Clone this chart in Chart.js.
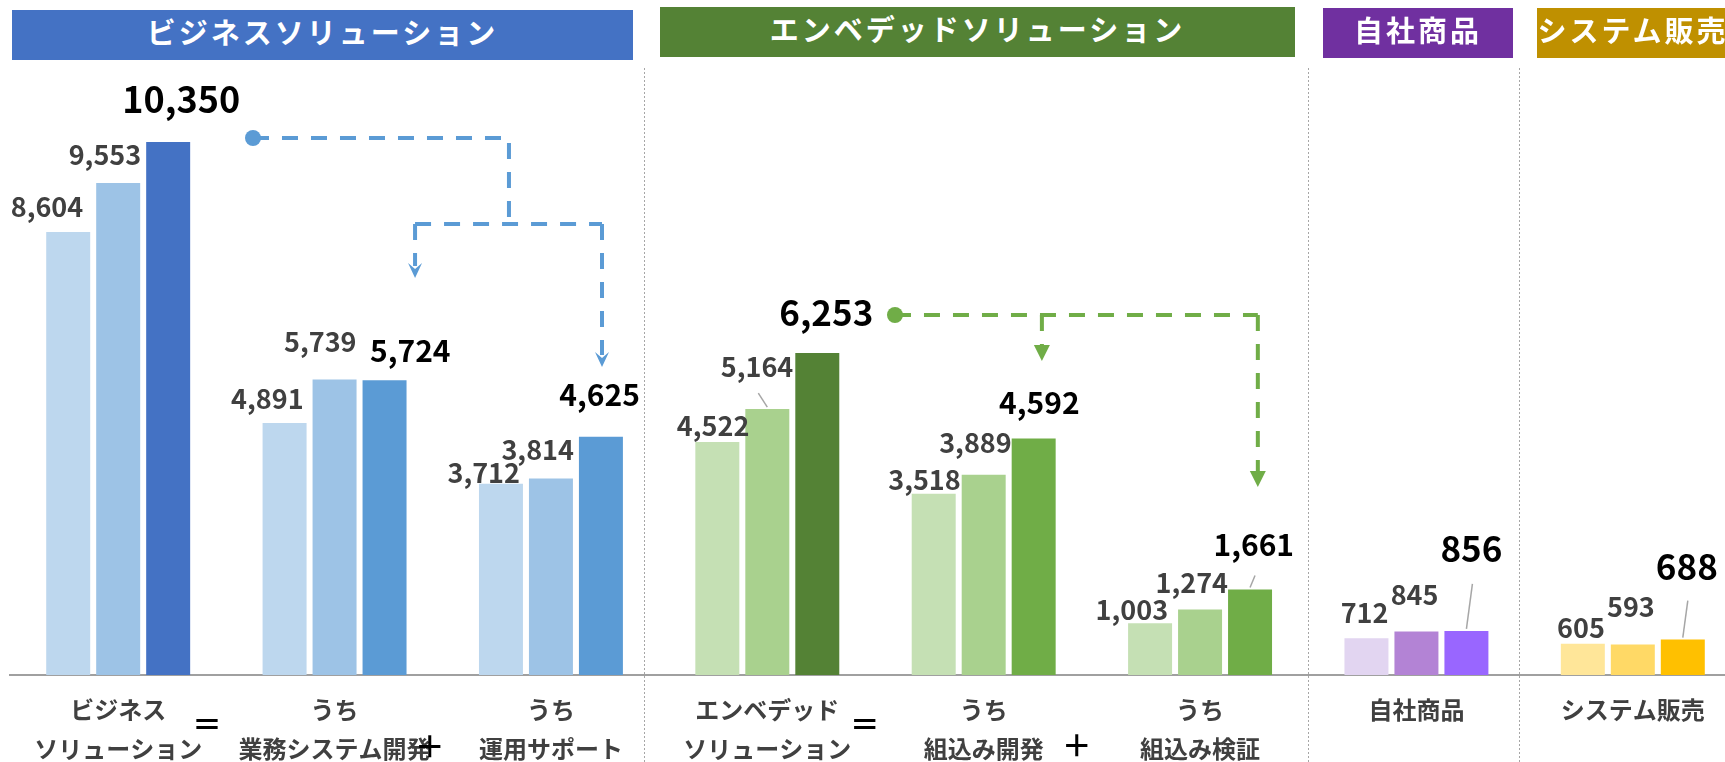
<!DOCTYPE html>
<html lang="ja">
<head>
<meta charset="utf-8">
<title>セグメント別売上高</title>
<script src="https://cdn.jsdelivr.net/npm/chart.js@4.4.1/dist/chart.umd.min.js"></script>
<style>
  html, body { margin: 0; padding: 0; background: #fff; overflow: hidden; }
  #wrap { position: relative; width: 1725px; height: 762px; overflow: hidden; }
  #chart { position: absolute; left: 0; top: 0; }
  .band {
    position: absolute; height: 50px; line-height: 50px; color: #fff;
    font: bold 29px 'Noto Sans CJK JP', sans-serif; letter-spacing: 3px;
    text-align: center; white-space: nowrap; overflow: hidden;
  }
</style>
</head>
<body>
<div id="wrap">
  <canvas id="chart" width="1760" height="762"></canvas>
  <div class="band" style="left:12px;top:10px;width:621px;background:#4472c4">ビジネスソリューション</div>
  <div class="band" style="left:660px;top:7px;width:635px;background:#548235">エンベデッドソリューション</div>
  <div class="band" style="left:1323px;top:8px;width:190px;background:#7030a0">自社商品</div>
  <div class="band" style="left:1537px;top:8px;width:192px;background:#bf9000">システム販売</div>
</div>
<script>
// 区分ごとの売上高（3期分）
const categories = [
  ['ビジネス', 'ソリューション'],
  ['うち', '業務システム開発'],
  ['うち', '運用サポート'],
  ['エンベデッド', 'ソリューション'],
  ['うち', '組込み開発'],
  ['うち', '組込み検証'],
  '自社商品',
  'システム販売'
];
const period1 = [8604, 4891, 3712, 4522, 3518, 1003, 712, 605];
const period2 = [9553, 5739, 3814, 5164, 3889, 1274, 845, 593];
const period3 = [10350, 5724, 4625, 6253, 4592, 1661, 856, 688];

const colors1 = ['#bdd7ee', '#bdd7ee', '#bdd7ee', '#c5e0b4', '#c5e0b4', '#c5e0b4', '#e2d5f1', '#ffe699'];
const colors2 = ['#9dc3e6', '#9dc3e6', '#9dc3e6', '#a9d18e', '#a9d18e', '#a9d18e', '#b383d5', '#ffd966'];
const colors3 = ['#4472c4', '#5b9bd5', '#5b9bd5', '#548235', '#70ad47', '#70ad47', '#9966ff', '#ffc000'];

const FONT = "'Noto Sans CJK JP', 'Noto Sans', sans-serif";

// ラベルの位置調整（棒の右上からのずれ: 右端, ベースライン）
const labelShift = [
  [[-7, -15], [-3, -14], [-3, -1], [10, -6], [5, -4], [-4, -3], [0, -15], [0, -6]],
  [[1, -18], [0, -27], [1, -19], [4, -32], [6, -22], [6, -16], [0, -26], [0, -27]],
  [[50, -29], [44, -18], [17, -31], [34, -27], [24, -25], [22, -33], [14, -69], [13, -60]]
];
// 最新期ラベルの文字サイズ
const totalLabelSize = [36, 30, 30, 35, 30, 30, 35, 35];
// 引き出し線（棒の上端中央から）
const leaders = [
  { ds: 1, i: 3, dx: -9, dy: -14 },
  { ds: 2, i: 5, dx: 5, dy: -12 },
  { ds: 2, i: 6, dx: 6, dy: -45 },
  { ds: 2, i: 7, dx: 5, dy: -37 }
];
// 内訳の矢印（x: 区分位置, y: 値）
const connectors = [
  {
    color: '#5b9bd5', head: 'line',
    dot: [0.623, 10427], corner: [1.806, 10427], split: 8757,
    branches: [[1.372, 7709], [2.236, 5981]]
  },
  {
    color: '#70ad47', head: 'triangle',
    dot: [3.590, 6990], corner: [5.267, 6990], split: 6990,
    branches: [[4.269, 6097], [5.267, 3650]]
  }
];
const signs = [
  { text: '＝', at: 0.41, dy: 49 },
  { text: '＋', at: 1.44, dy: 71 },
  { text: '＝', at: 3.45, dy: 49 },
  { text: '＋', at: 4.43, dy: 70 }
];
const dividers = [2.431, 5.499, 6.474];

const extras = {
  id: 'extras',
  afterDatasetsDraw(chart) {
    const { ctx, chartArea, scales: { x, y } } = chart;
    const step = x.getPixelForValue(1) - x.getPixelForValue(0);
    const px = v => x.getPixelForValue(0) + v * step;

    ctx.save();

    // 区切りの点線
    ctx.strokeStyle = '#a6a6a6';
    ctx.lineWidth = 1;
    ctx.setLineDash([2, 2]);
    dividers.forEach(d => {
      const xx = Math.round(px(d)) + 0.5;
      ctx.beginPath();
      ctx.moveTo(xx, chartArea.top + 11);
      ctx.lineTo(xx, chart.height);
      ctx.stroke();
    });
    ctx.setLineDash([]);

    // 数値ラベル
    ctx.textAlign = 'right';
    ctx.textBaseline = 'alphabetic';
    chart.data.datasets.forEach((ds, di) => {
      const meta = chart.getDatasetMeta(di);
      meta.data.forEach((bar, i) => {
        const [dx, dy] = labelShift[di][i];
        const right = bar.x + bar.width / 2;
        if (di === 2) {
          ctx.fillStyle = '#000';
          ctx.font = `bold ${totalLabelSize[i]}px ${FONT}`;
        } else {
          ctx.fillStyle = '#404040';
          ctx.font = `600 27px ${FONT}`;
        }
        ctx.fillText(ds.data[i].toLocaleString('en-US'), right + dx, bar.y + dy);
      });
    });

    // 引き出し線
    ctx.strokeStyle = '#a6a6a6';
    ctx.lineWidth = 1.5;
    leaders.forEach(l => {
      const bar = chart.getDatasetMeta(l.ds).data[l.i];
      ctx.beginPath();
      ctx.moveTo(bar.x, bar.y - 2);
      ctx.lineTo(bar.x + l.dx, bar.y - 2 + l.dy);
      ctx.stroke();
    });

    // 内訳の矢印
    connectors.forEach(c => {
      ctx.strokeStyle = c.color;
      ctx.fillStyle = c.color;
      ctx.lineWidth = 4;
      ctx.setLineDash([16, 13]);
      const dotX = px(c.dot[0]), dotY = y.getPixelForValue(c.dot[1]);
      const cornerX = px(c.corner[0]);
      const splitY = y.getPixelForValue(c.split);
      ctx.beginPath();
      ctx.moveTo(dotX, dotY);
      ctx.lineTo(cornerX, dotY);
      if (splitY !== dotY) ctx.lineTo(cornerX, splitY);
      ctx.stroke();
      const bx = c.branches.map(b => px(b[0]));
      if (splitY !== dotY) {
        ctx.beginPath();
        ctx.moveTo(Math.min(...bx), splitY);
        ctx.lineTo(Math.max(...bx), splitY);
        ctx.stroke();
      }
      c.branches.forEach((b, k) => {
        const tipY = y.getPixelForValue(b[1]);
        ctx.beginPath();
        ctx.moveTo(bx[k], splitY);
        ctx.lineTo(bx[k], tipY - 12);
        ctx.stroke();
      });
      ctx.setLineDash([]);
      ctx.beginPath();
      ctx.arc(dotX, dotY, 8, 0, Math.PI * 2);
      ctx.fill();
      c.branches.forEach((b, k) => {
        const tipY = y.getPixelForValue(b[1]);
        ctx.beginPath();
        if (c.head === 'triangle') {
          ctx.moveTo(bx[k] - 8, tipY - 16);
          ctx.lineTo(bx[k] + 8, tipY - 16);
          ctx.lineTo(bx[k], tipY);
        } else {
          ctx.moveTo(bx[k] - 7, tipY - 15);
          ctx.lineTo(bx[k], tipY - 9);
          ctx.lineTo(bx[k] + 7, tipY - 15);
          ctx.lineTo(bx[k], tipY);
        }
        ctx.closePath();
        ctx.fill();
      });
    });

    // ＝ と ＋
    ctx.fillStyle = '#000';
    ctx.textAlign = 'center';
    ctx.textBaseline = 'middle';
    ctx.font = `bold 30px ${FONT}`;
    signs.forEach(s => {
      ctx.fillText(s.text, px(s.at), chartArea.bottom + s.dy);
    });

    ctx.restore();
  }
};

new Chart(document.getElementById('chart'), {
  type: 'bar',
  data: {
    labels: categories,
    datasets: [
      { label: '第1期', data: period1, backgroundColor: colors1 },
      { label: '第2期', data: period2, backgroundColor: colors2 },
      { label: '第3期', data: period3, backgroundColor: colors3 }
    ]
  },
  options: {
    responsive: false,
    animation: false,
    categoryPercentage: 0.693,
    barPercentage: 0.88,
    layout: { padding: { left: 10, right: 19, top: 57, bottom: 0 } },
    plugins: {
      legend: { display: false },
      title: { display: false },
      tooltip: { enabled: false }
    },
    scales: {
      x: {
        grid: { display: false, drawTicks: false },
        border: { display: true, color: '#a0a0a0', width: 2 },
        ticks: {
          autoSkip: false,
          maxRotation: 0,
          minRotation: 0,
          padding: 15,
          color: '#404040',
          font: { family: FONT, size: 24, weight: 'bold', lineHeight: 1.63 }
        },
        afterFit(scale) { scale.height = 87; }
      },
      y: {
        display: false,
        min: 0,
        max: 12000
      }
    }
  },
  plugins: [extras]
});
</script>
</body>
</html>
